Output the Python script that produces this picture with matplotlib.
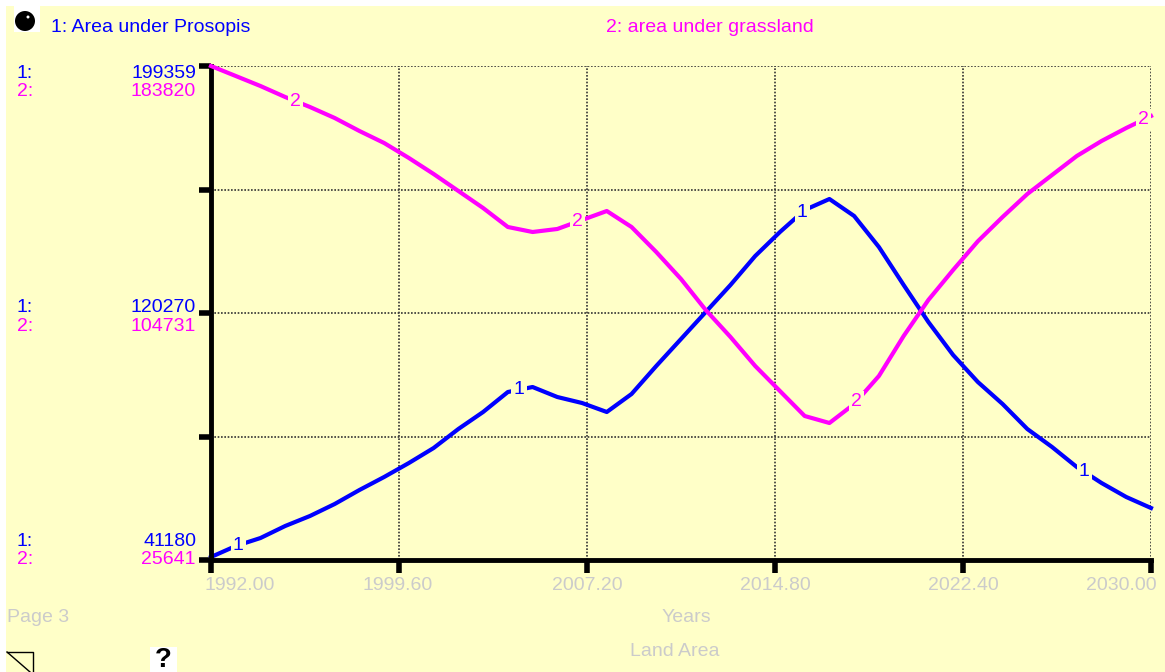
import numpy as np
import matplotlib
matplotlib.use('Agg')
import matplotlib.pyplot as plt
import matplotlib.patches as mpatches

plt.rcParams['font.family'] = ['Liberation Sans', 'DejaVu Sans']

years = list(range(1992, 2031))
prosopis = [42140, 45660, 48220, 52070, 55270, 59110, 63590, 67760, 72240, 77040,
            83130, 88570, 94970, 96570, 93370, 91450, 88570, 94330, 103300, 111940,
            120590, 129240, 138520, 146200, 153250, 156770, 151330, 141400, 129240, 117390,
            106820, 98180, 91130, 83130, 77360, 70960, 65840, 61350, 57830]
grassland = [183820, 180620, 177410, 173890, 170690, 167170, 163010, 159160, 154360, 149240,
             143800, 138350, 132270, 130670, 131630, 134510, 137390, 132270, 124260, 115620,
             105690, 97050, 87760, 79750, 71750, 69510, 75590, 84560, 97360, 108900,
             118500, 127700, 135470, 142830, 148920, 155000, 159800, 163970, 167810]

blue_ticks = ['199359', '120270', '41180']
mag_ticks = ['183820', '104731', '25641']
x_ticks = [1992.0, 1999.6, 2007.2, 2014.8, 2022.4, 2030.0]
x_labels = ['1992.00', '1999.60', '2007.20', '2014.80', '2022.40', '2030.00']
y_frac = [0, 0.25, 0.5, 0.75, 1]
blue_lab_years = [1993.1, 2004.45, 2015.9, 2027.3]
mag_lab_years = [1995.4, 2006.8, 2018.1, 2029.7]

W, H = 1165, 672
BG = '#FFFFC8'
GREY = '#CBCBCB'
BLUE = '#0000FF'
MAG = '#FF00FF'

fig = plt.figure(figsize=(W / 100, H / 100), dpi=100, facecolor='white')
fig.patches.append(mpatches.Rectangle((6 / W, 0), 1 - 6 / W, 1 - 6 / H, transform=fig.transFigure, fc=BG, ec='none', zorder=-5))


def txt(x, y, s, color, ha='left', size=14):
    fig.text(x / W, 1 - y / H, s, color=color, ha=ha, va='center', fontsize=size)


# plot area in pixels: 211-1151 across, 66-560 down
ax = fig.add_axes([211 / W, 1 - 560 / H, 940 / W, 494 / H])
ax.set_facecolor('none')
ax.set_xlim(1992, 2030)
ax.set_ylim(41180, 199359)
ax2 = ax.twinx()
ax2.set_ylim(25641, 183820)
ax2.set_facecolor('none')
ax2.axis('off')

ax.set_xticks(x_ticks)
ax.set_yticks(np.array(y_frac) * (199359 - 41180) + 41180)
ax.set_xticklabels([])
ax.set_yticklabels([])
ax.grid(True, color='#333333', linestyle=(0, (1, 1)), linewidth=1.2)
ax.set_axisbelow(True)
ax.tick_params(axis='x', length=9, width=4, color='black', direction='out')
ax.tick_params(axis='y', length=9, width=4, color='black', direction='out')
for s in ['top', 'right']:
    ax.spines[s].set_visible(False)
for s in ['left', 'bottom']:
    ax.spines[s].set_linewidth(3.5)
    ax.spines[s].set_zorder(5)

ax.plot(years, prosopis, color=BLUE, lw=3, clip_on=False, solid_joinstyle='round')
ax2.plot(years, grassland, color=MAG, lw=3, clip_on=False, solid_joinstyle='round')

box = dict(facecolor=BG, edgecolor='none', pad=1.5)
for yr in blue_lab_years:
    ax.text(yr, np.interp(yr, years, prosopis), '1', color=BLUE, fontsize=14, ha='center', va='center', bbox=box, clip_on=False)
for yr in mag_lab_years:
    ax2.text(yr, np.interp(yr, years, grassland), '2', color=MAG, fontsize=14, ha='center', va='center', bbox=box, clip_on=False)

# header
txt(51, 28, '1: Area under Prosopis', BLUE)
txt(606, 28, '2: area under grassland', MAG)

# y labels, three rows
for yb, ym, b, m in zip([73, 308, 541], [91, 327, 560], blue_ticks, mag_ticks):
    txt(17, yb, '1:', BLUE)
    txt(17, ym, '2:', MAG)
    txt(196, yb, b, BLUE, ha='right')
    txt(196, ym, m, MAG, ha='right')

for xp, lab in zip([240, 398, 587, 775, 963, 1121], x_labels):
    txt(xp, 586, lab, GREY, ha='center')

txt(7, 618, 'Page 3', GREY)
txt(686, 618, 'Years', GREY, ha='center')
txt(675, 652, 'Land Area', GREY, ha='center')

# little icons
fig.patches.append(mpatches.Rectangle((14 / W, 1 - 32 / H), 26 / W, 26 / H, transform=fig.transFigure, fc='white', ec='none'))
fig.patches.append(mpatches.Ellipse((25 / W, 1 - 21 / H), 20 / W, 20 / H, transform=fig.transFigure, fc='black', ec='none'))
fig.patches.append(mpatches.Ellipse((28 / W, 1 - 17 / H), 3 / W, 3 / H, transform=fig.transFigure, fc='white', ec='none'))
fig.patches.append(mpatches.Rectangle((150 / W, 0), 27 / W, 25 / H, transform=fig.transFigure, fc='white', ec='none'))
fig.text(163 / W, 1 - 660 / H, '?', color='black', ha='center', va='center', fontsize=20, fontweight='bold')
fig.add_artist(plt.Line2D([7 / W, 33 / W, 33 / W], [1 - 652 / H, 1 - 652 / H, 0], color='black', lw=1))
fig.add_artist(plt.Line2D([7 / W, 30 / W], [1 - 652 / H, 0], color='black', lw=1))

fig.savefig('out.png', dpi=100, facecolor=fig.get_facecolor())
